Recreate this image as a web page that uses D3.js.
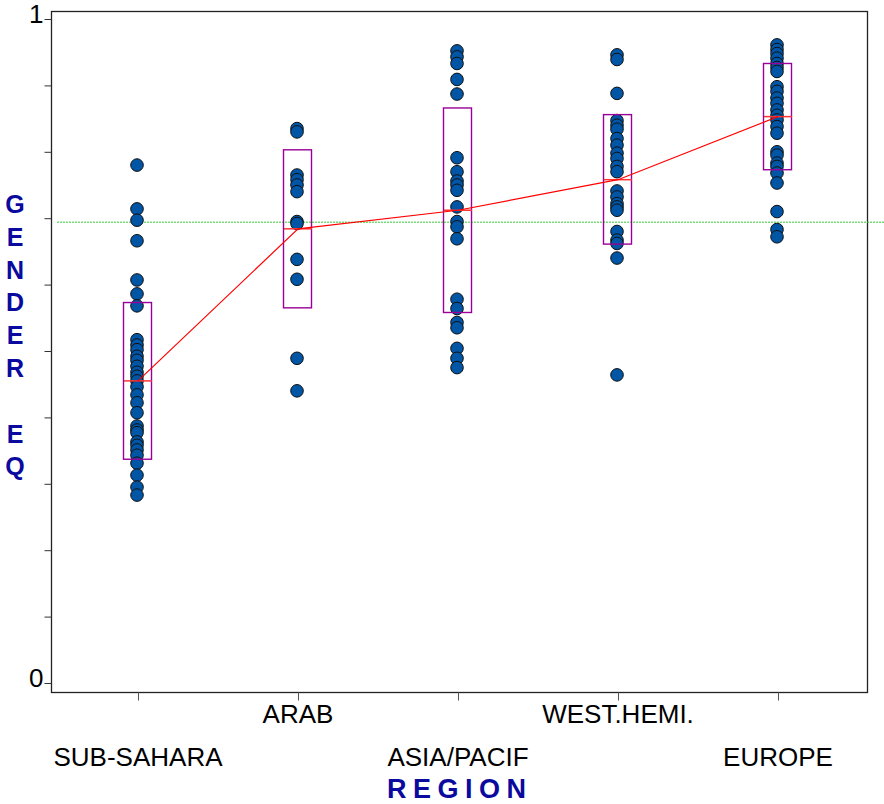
<!DOCTYPE html>
<html>
<head>
<meta charset="utf-8">
<script src="https://cdn.jsdelivr.net/npm/d3@7"></script>
<style>
  body { margin: 0; background: #fff; }
  svg { display: block; }
</style>
</head>
<body>
<div id="chart"></div>
<script>
var width = 884,
    height = 804;

// regions (x categories)
var regions = ["SUB-SAHARA", "ARAB", "ASIA/PACIF", "WEST.HEMI.", "EUROPE"];

// gender equality values per region
var subSahara = [0.780, 0.714, 0.697, 0.666, 0.607, 0.586, 0.568, 0.517, 0.509, 0.502,
                 0.492, 0.486, 0.477, 0.468, 0.462, 0.455, 0.446, 0.434, 0.422, 0.407,
                 0.387, 0.381, 0.377, 0.363, 0.358, 0.351, 0.343, 0.331, 0.313, 0.295, 0.283];
var arab = [0.835, 0.830, 0.765, 0.758, 0.750, 0.740, 0.695, 0.692, 0.638, 0.608, 0.489, 0.440];
var asiaPacif = [0.952, 0.943, 0.933, 0.909, 0.887, 0.791, 0.770, 0.756, 0.750, 0.742,
                 0.717, 0.695, 0.687, 0.669, 0.578, 0.564, 0.543, 0.535, 0.504, 0.489, 0.475];
var westHemi = [0.946, 0.939, 0.888, 0.847, 0.840, 0.834, 0.820, 0.810, 0.798, 0.790,
                0.778, 0.770, 0.741, 0.732, 0.722, 0.717, 0.712, 0.680, 0.667, 0.662, 0.640, 0.464];
var europe = [0.961, 0.954, 0.948, 0.941, 0.933, 0.927, 0.921, 0.898, 0.891, 0.881,
              0.873, 0.863, 0.855, 0.848, 0.838, 0.828, 0.800, 0.795, 0.783, 0.778,
              0.768, 0.753, 0.710, 0.683, 0.672];

// group summaries (box = mean +/- 1 sd)
var meanVals = [0.455, 0.684, 0.712, 0.758, 0.853];
var boxLow   = [0.337, 0.565, 0.558, 0.661, 0.773];
var boxHigh  = [0.573, 0.803, 0.866, 0.856, 0.933];
var overallMean = 0.694;

var yTickValues = [0, 0.1, 0.2, 0.3, 0.4, 0.5, 0.6, 0.7, 0.8, 0.9, 1];
var yTickLabels = {0: "0", 1: "1"};

var groups = [subSahara, arab, asiaPacif, westHemi, europe];

function draw() {
  "use strict";

  var svg = d3.select("#chart").append("svg")
      .attr("width", width)
      .attr("height", height);

  var frame = {left: 51, top: 11, right: 867, bottom: 692};

  var x = d3.scalePoint().domain(regions).range([138, 778]);
  var y = d3.scaleLinear().domain([0, 1]).range([683, 19]);

  // plot frame
  svg.append("rect")
     .attr("x", frame.left + 0.5)
     .attr("y", frame.top + 0.5)
     .attr("width", frame.right - frame.left)
     .attr("height", frame.bottom - frame.top)
     .attr("fill", "none")
     .attr("stroke", "#222")
     .attr("stroke-width", 1.3);

  // y axis ticks, labels only at 0 and 1
  var yAxis = d3.axisLeft(y)
      .tickValues(yTickValues)
      .tickSize(7)
      .tickPadding(1)
      .tickFormat(function(d) { return yTickLabels[d] || ""; });

  var gy = svg.append("g")
      .attr("transform", "translate(" + (frame.left + 0.5) + ",0)")
      .call(yAxis);
  gy.select(".domain").remove();
  gy.selectAll(".tick line").attr("stroke", "#333");
  gy.selectAll(".tick text")
    .attr("dy", "0.15em")
    .style("font-family", "'Liberation Sans Narrow', 'Liberation Sans', sans-serif")
    .style("font-size", "26px")
    .attr("fill", "#000");

  // x axis ticks below the frame
  var xAxis = d3.axisBottom(x).tickSize(8).tickFormat("");
  var gx = svg.append("g")
      .attr("transform", "translate(0," + (frame.bottom + 0.5) + ")")
      .call(xAxis);
  gx.select(".domain").remove();
  gx.selectAll(".tick line").attr("stroke", "#555");

  // staggered category labels
  svg.append("g").selectAll("text")
     .data(regions)
     .enter()
     .append("text")
     .attr("x", function(d) { return x(d); })
     .attr("y", function(d, i) { return i % 2 === 1 ? 723 : 766; })
     .attr("text-anchor", "middle")
     .style("font-family", "'Liberation Sans', Arial, sans-serif")
     .style("font-size", "26px")
     .attr("fill", "#000")
     .text(function(d) { return d; });

  // axis titles
  svg.append("text")
     .attr("x", 387)
     .attr("y", 798)
     .attr("textLength", 139)
     .attr("lengthAdjust", "spacing")
     .style("font-family", "'Liberation Sans Narrow', 'Liberation Sans', sans-serif")
     .style("font-weight", "bold")
     .style("font-size", "27px")
     .attr("fill", "#0a0a9e")
     .text("REGION");

  var yTitle = "GENDER EQ".split("");
  svg.append("g").selectAll("text")
     .data(yTitle)
     .enter()
     .append("text")
     .attr("x", 15)
     .attr("y", function(d, i) { return 213 + i * 32.8; })
     .attr("text-anchor", "middle")
     .style("font-family", "'Liberation Sans Narrow', 'Liberation Sans', sans-serif")
     .style("font-weight", "bold")
     .style("font-size", "25px")
     .attr("fill", "#0a0a9e")
     .text(function(d) { return d; });

  // overall mean reference line
  svg.append("line")
     .attr("x1", 57)
     .attr("x2", width)
     .attr("y1", y(overallMean))
     .attr("y2", y(overallMean))
     .attr("stroke", "#33cc33")
     .attr("stroke-width", 1)
     .attr("stroke-dasharray", "2,1");

  // data points
  groups.forEach(function(vals, gi) {
    svg.append("g").selectAll("circle")
       .data(vals)
       .enter()
       .append("circle")
       .attr("cx", x(regions[gi]) - 1)
       .attr("cy", function(d) { return y(d); })
       .attr("r", 6.3)
       .attr("fill", "#0055a5")
       .attr("stroke", "#111")
       .attr("stroke-width", 1);
  });

  // mean +/- sd boxes
  var boxW = 28;
  svg.append("g").selectAll("rect")
     .data(regions)
     .enter()
     .append("rect")
     .attr("x", function(d) { return x(d) - boxW / 2 - 0.5; })
     .attr("y", function(d, i) { return y(boxHigh[i]); })
     .attr("width", boxW)
     .attr("height", function(d, i) { return y(boxLow[i]) - y(boxHigh[i]); })
     .attr("fill", "none")
     .attr("stroke", "#990099")
     .attr("stroke-width", 1.4);

  // mean marks inside boxes
  svg.append("g").selectAll("line")
     .data(regions)
     .enter()
     .append("line")
     .attr("x1", function(d) { return x(d) - boxW / 2; })
     .attr("x2", function(d) { return x(d) + boxW / 2; })
     .attr("y1", function(d, i) { return y(meanVals[i]); })
     .attr("y2", function(d, i) { return y(meanVals[i]); })
     .attr("stroke", "#ff3333")
     .attr("stroke-width", 1.5);

  // line joining group means
  var meanLine = d3.line()
      .x(function(d) { return x(d); })
      .y(function(d, i) { return y(meanVals[i]); });

  svg.append("path")
     .datum(regions)
     .attr("d", meanLine)
     .attr("fill", "none")
     .attr("stroke", "#ff0000")
     .attr("stroke-width", 1.2);
}

draw();
</script>
</body>
</html>
